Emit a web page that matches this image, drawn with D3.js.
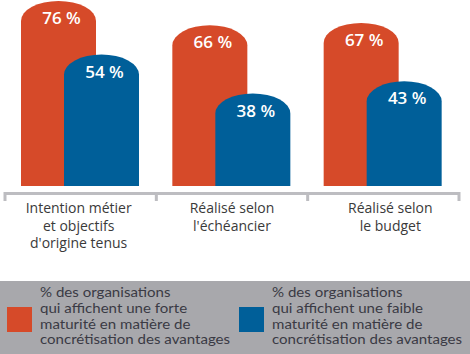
<!DOCTYPE html>
<html>
<head>
<meta charset="utf-8">
<script src="https://cdn.jsdelivr.net/npm/d3@7"></script>
<style>
  * { margin: 0; padding: 0; }
  body { background: #fff; }
  svg { display: block; font-family: "Open Sans", sans-serif; }
</style>
</head>
<body>
<svg id="chart" width="470" height="354"></svg>
<script>
// categories (each split into lines as in the picture)
const categories = ["intention", "echeancier", "budget"];
const categoryLines = [
  ["Intention métier", "et objectifs", "d'origine tenus"],
  ["Réalisé selon", "l'échéancier"],
  ["Réalisé selon", "le budget"]
];
const series = ["forte", "faible"];
const forteValues = [76, 66, 67];
const faibleValues = [54, 38, 43];
const seriesColors = ["#d64a29", "#005f99"];
const legendLines = [
  ["% des organisations", "qui affichent une forte", "maturité en matière de", "concrétisation des avantages"],
  ["% des organisations", "qui affichent une faible", "maturité en matière de", "concrétisation des avantages"]
];

const svg = d3.select("#chart");
const baseY = 186;
const barW = 75;
const capH = 20;
const labelShift = [-2, 0, 7];

const x0 = d3.scaleBand().domain(categories).range([5, 459]).padding(0);
const x1 = d3.scalePoint().domain(series).range([16, 59]);
const y = d3.scaleLinear().domain([0, 76]).range([baseY, 1]);

const values = { forte: forteValues, faible: faibleValues };
const color = d3.scaleOrdinal().domain(series).range(seriesColors);

// rounded-top bar: straight sides, elliptical cap
const capPath = (x, top, w) => {
  const rx = w / 2;
  return `M${x},${baseY}V${top + capH}A${rx},${capH} 0 0 1 ${x + w},${top + capH}V${baseY}Z`;
};

const groups = svg.selectAll("g.grp")
  .data(categories)
  .join("g")
  .attr("class", "grp")
  .attr("transform", d => `translate(${x0(d)},0)`);

series.forEach(s => {
  groups.append("path")
    .attr("d", (c, i) => capPath(x1(s), y(values[s][i]), barW))
    .attr("fill", color(s));
  groups.append("text")
    .attr("x", x1(s) + barW / 2 + 3)
    .attr("y", (c, i) => y(values[s][i]) + 23)
    .attr("text-anchor", "middle")
    .attr("fill", "#fff")
    .attr("font-size", 17)
    .attr("font-weight", 600)
    .text((c, i) => values[s][i] + " %");
});

// bracket axis
const axisY = 193.5;
const ticks = [x0.range()[0], ...categories.map(c => x0(c) + x0.bandwidth())];
svg.append("line")
  .attr("x1", ticks[0]).attr("x2", ticks[ticks.length - 1])
  .attr("y1", axisY).attr("y2", axisY)
  .attr("stroke", "#bdbdc1").attr("stroke-width", 3);
svg.selectAll("line.tick")
  .data(ticks)
  .join("line")
  .attr("class", "tick")
  .attr("x1", d => d).attr("x2", d => d)
  .attr("y1", axisY - 1.5).attr("y2", 201)
  .attr("stroke", "#bdbdc1").attr("stroke-width", 3);

// category labels
groups.append("text")
  .attr("text-anchor", "middle")
  .attr("fill", "#3a3a3a")
  .attr("font-size", 14)
  .selectAll("tspan")
  .data((c, i) => categoryLines[i].map(t => ({ t, i })))
  .join("tspan")
  .attr("x", d => x0.bandwidth() / 2 + labelShift[d.i])
  .attr("y", (d, j) => 213 + j * 17.5)
  .text(d => d.t);

// legend
svg.append("rect")
  .attr("x", 0).attr("y", 281)
  .attr("width", 470).attr("height", 73)
  .attr("fill", "#a8a8ac");

const legendX = [7, 239];
series.forEach((s, i) => {
  svg.append("rect")
    .attr("x", legendX[i]).attr("y", 307)
    .attr("width", 25).attr("height", 25)
    .attr("fill", color(s));
  // slightly widened Lato so the tight line spacing of the original fits
  svg.append("text")
    .attr("transform", `translate(${legendX[i] + 33},0) scale(1.16,1)`)
    .attr("fill", "#3a3a44")
    .attr("font-family", "Lato, sans-serif")
    .attr("font-size", 13)
    .selectAll("tspan")
    .data(legendLines[i])
    .join("tspan")
    .attr("x", 0)
    .attr("y", (d, j) => 297.5 + j * 15.6)
    .text(d => d);
});
</script>
</body>
</html>
